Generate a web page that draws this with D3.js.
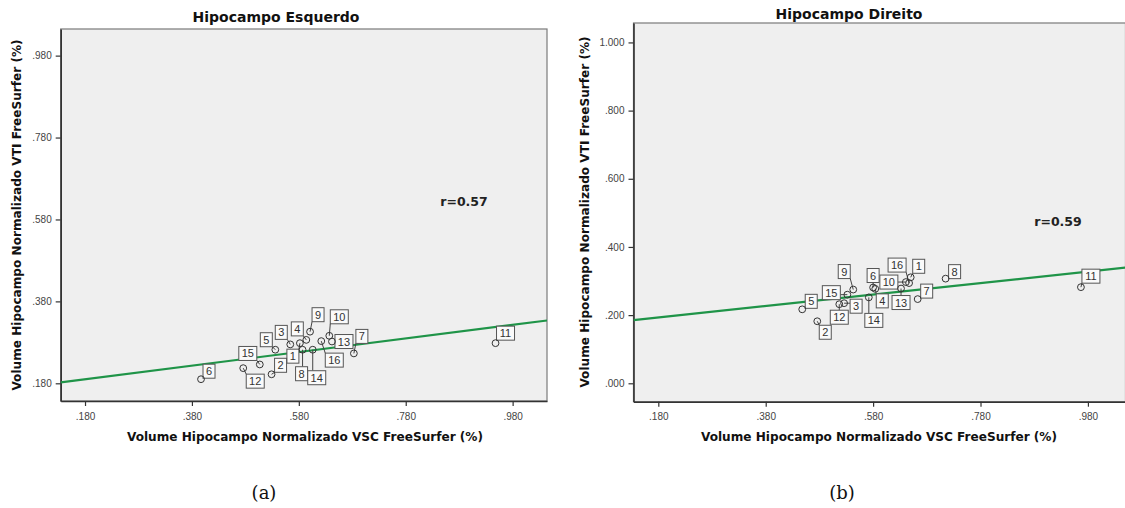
<!DOCTYPE html>
<html>
<head>
<meta charset="utf-8">
<script src="https://cdn.jsdelivr.net/npm/d3@7/dist/d3.min.js"></script>
<style>
  html, body { margin: 0; padding: 0; background: #ffffff; }
  svg { display: block; }
</style>
</head>
<body>
<svg id="chart" width="1125" height="508"></svg>
<script>
// Case numbers shown in the point labels
const caseIds = [1, 2, 3, 4, 5, 6, 7, 8, 9, 10, 11, 12, 13, 14, 15, 16];

// Left hippocampus: normalised volume (%) VSC vs VTI
const leftVSC = [0.582, 0.529, 0.564, 0.594, 0.536, 0.397, 0.683, 0.587, 0.601, 0.637, 0.948, 0.476, 0.642, 0.606, 0.507, 0.622];
const leftVTI = [0.278, 0.202, 0.275, 0.286, 0.262, 0.190, 0.253, 0.262, 0.306, 0.296, 0.278, 0.217, 0.282, 0.262, 0.226, 0.283];

// Right hippocampus: normalised volume (%) VSC vs VTI
const rightVSC = [0.650, 0.476, 0.526, 0.584, 0.448, 0.580, 0.663, 0.715, 0.543, 0.641, 0.967, 0.517, 0.632, 0.572, 0.532, 0.647];
const rightVTI = [0.311, 0.182, 0.235, 0.277, 0.217, 0.281, 0.247, 0.307, 0.275, 0.297, 0.282, 0.232, 0.278, 0.252, 0.260, 0.294];

// Fit lines: [intercept, slope]
const leftFit = [0.160, 0.166];
const rightFit = [0.163, 0.168];

// Correlation annotations
const leftR = "r=0.57";
const rightR = "r=0.59";

// Tick values
const xTickValues = [0.18, 0.38, 0.58, 0.78, 0.98];
const leftYTickValues = [0.18, 0.38, 0.58, 0.78, 0.98];
const rightYTickValues = [0.0, 0.2, 0.4, 0.6, 0.8, 1.0];

// Texts
const panelTitles = ["Hipocampo Esquerdo", "Hipocampo Direito"];
const xAxisTitle = "Volume Hipocampo Normalizado VSC FreeSurfer (%)";
const yAxisTitle = "Volume Hipocampo Normalizado VTI FreeSurfer (%)";
const captions = ["(a)", "(b)"];

// Label box offsets (px, from each point) used for the case labels
const leftLabelOffsets = [[-7, 13], [9, -9], [-9, -12], [-9, -11], [-9, -10], [8, -8], [8, -17], [-1, 24],
                          [8, -17], [10, -19], [10, -10], [12, 13], [12, 0], [4, 28], [-12, -11], [13, 19]];
const rightLabelOffsets = [[8, -11], [8, 11], [12, 3], [7, 12], [9, -8], [0, -12], [9, -8], [9, -7],
                           [-9, -18], [-17, 0], [10, -11], [0, 13], [0, 14], [5, 23], [-16, -2], [-12, -18]];

const svg = d3.select("#chart");

// SPSS-style tick labels: drop the leading zero below one
const fmt = v => {
  const s = d3.format(".3f")(v);
  return s.startsWith("0.") ? s.slice(1) : s;
};

const boldFont = "'DejaVu Sans', sans-serif";
const plainFont = "'Liberation Sans', Arial, sans-serif";

const panels = [
  {
    id: "L", title: panelTitles[0], caption: captions[0],
    xs: leftVSC, ys: leftVTI, fit: leftFit, r: leftR, offsets: leftLabelOffsets,
    xDomain: [0.1345, 1.0443], yDomain: [0.1368, 1.045], yTicks: leftYTickValues,
    box: { x0: 60.7, x1: 547, y0: 29, y1: 401 },
    titlePos: [276, 17], rPos: [464, 206], xTitlePos: [305, 441], yTitlePos: [21, 215], capPos: [264, 499]
  },
  {
    id: "R", title: panelTitles[1], caption: captions[1],
    xs: rightVSC, ys: rightVTI, fit: rightFit, r: rightR, offsets: rightLabelOffsets,
    xDomain: [0.1338, 1.05], yDomain: [-0.054, 1.057], yTicks: rightYTickValues,
    box: { x0: 633.5, x1: 1125.5, y0: 23, y1: 401.7 },
    titlePos: [849, 14], rPos: [1058, 226], xTitlePos: [879, 441], yTitlePos: [589, 212], capPos: [842, 499]
  }
];

panels.forEach(p => {
  const b = p.box;
  const x = d3.scaleLinear().domain(p.xDomain).range([b.x0, b.x1]);
  const y = d3.scaleLinear().domain(p.yDomain).range([b.y1, b.y0]);
  const g = svg.append("g");

  // plot background
  g.append("rect")
    .attr("x", b.x0).attr("y", b.y0)
    .attr("width", b.x1 - b.x0).attr("height", b.y1 - b.y0)
    .attr("fill", "#efefef")
    .attr("stroke", "#7a7a7a").attr("stroke-width", 1.2);

  const clipId = "clip" + p.id;
  g.append("clipPath").attr("id", clipId)
    .append("rect")
    .attr("x", b.x0).attr("y", b.y0)
    .attr("width", b.x1 - b.x0).attr("height", b.y1 - b.y0);

  // axes
  const xAxis = d3.axisBottom(x).tickValues(xTickValues).tickFormat(fmt).tickSize(5).tickSizeOuter(0);
  const yAxis = d3.axisLeft(y).tickValues(p.yTicks).tickFormat(fmt).tickSize(5).tickSizeOuter(0);

  const gx = g.append("g").attr("transform", `translate(0,${b.y1})`).call(xAxis);
  const gy = g.append("g").attr("transform", `translate(${b.x0},0)`).call(yAxis);
  [gx, gy].forEach(ax => {
    ax.select(".domain").attr("stroke", "#333").attr("stroke-width", 1.6);
    ax.selectAll(".tick line").attr("stroke", "#333").attr("stroke-width", 1.2);
    ax.selectAll(".tick text")
      .attr("fill", "#444")
      .attr("font-family", plainFont)
      .attr("font-size", 10);
  });
  gx.selectAll(".tick text").attr("dy", "1.05em");
  gy.selectAll(".tick text").attr("dx", "-1px");

  // fit line
  const fitFn = v => p.fit[0] + p.fit[1] * v;
  g.append("line")
    .attr("clip-path", `url(#${clipId})`)
    .attr("x1", x(p.xDomain[0])).attr("y1", y(fitFn(p.xDomain[0])))
    .attr("x2", x(p.xDomain[1])).attr("y2", y(fitFn(p.xDomain[1])))
    .attr("stroke", "#1f9448").attr("stroke-width", 2.2);

  const pts = caseIds.map((id, i) => ({
    id, px: x(p.xs[i]), py: y(p.ys[i]), off: p.offsets[i]
  }));

  // case labels with leader lines
  const lbl = g.append("g").attr("clip-path", `url(#${clipId})`);
  pts.forEach(d => {
    const w = String(d.id).length > 1 ? 18 : 12;
    const h = 14;
    const cx = d.px + d.off[0], cy = d.py + d.off[1];
    const rx0 = cx - w / 2, ry0 = cy - h / 2;
    const nx = Math.max(rx0, Math.min(d.px, rx0 + w));
    const ny = Math.max(ry0, Math.min(d.py, ry0 + h));
    if (Math.hypot(nx - d.px, ny - d.py) > 3.5) {
      lbl.append("line")
        .attr("x1", d.px).attr("y1", d.py).attr("x2", nx).attr("y2", ny)
        .attr("stroke", "#444").attr("stroke-width", 1);
    }
    lbl.append("rect")
      .attr("x", rx0).attr("y", ry0).attr("width", w).attr("height", h)
      .attr("fill", "#fafafa").attr("stroke", "#555").attr("stroke-width", 1);
    lbl.append("text")
      .attr("x", cx).attr("y", cy + 4)
      .attr("text-anchor", "middle")
      .attr("font-family", plainFont)
      .attr("font-size", 11).attr("fill", "#333")
      .text(d.id);
  });

  // points
  g.append("g").attr("clip-path", `url(#${clipId})`)
    .selectAll("circle").data(pts).join("circle")
    .attr("cx", d => d.px).attr("cy", d => d.py).attr("r", 3.4)
    .attr("fill", "none").attr("stroke", "#333").attr("stroke-width", 1);

  // annotation
  g.append("text")
    .attr("x", p.rPos[0]).attr("y", p.rPos[1])
    .attr("text-anchor", "middle")
    .attr("font-family", boldFont).attr("font-weight", "bold")
    .attr("font-size", 12.5).attr("fill", "#222")
    .text(p.r);

  // titles
  g.append("text")
    .attr("x", p.titlePos[0]).attr("y", p.titlePos[1] + 5)
    .attr("text-anchor", "middle")
    .attr("font-family", boldFont).attr("font-weight", "bold")
    .attr("font-size", 14).attr("fill", "#111")
    .text(p.title);

  g.append("text")
    .attr("x", p.xTitlePos[0]).attr("y", p.xTitlePos[1])
    .attr("text-anchor", "middle")
    .attr("font-family", boldFont).attr("font-weight", "bold")
    .attr("font-size", 12.1).attr("fill", "#111")
    .text(xAxisTitle);

  g.append("text")
    .attr("transform", `translate(${p.yTitlePos[0]},${p.yTitlePos[1]}) rotate(-90)`)
    .attr("text-anchor", "middle")
    .attr("font-family", boldFont).attr("font-weight", "bold")
    .attr("font-size", 12.1).attr("fill", "#111")
    .text(yAxisTitle);

  // caption
  svg.append("text")
    .attr("x", p.capPos[0]).attr("y", p.capPos[1])
    .attr("text-anchor", "middle")
    .attr("font-family", "'DejaVu Serif', 'Liberation Serif', serif")
    .attr("font-size", 18).attr("fill", "#111")
    .text(p.caption);
});
</script>
</body>
</html>
